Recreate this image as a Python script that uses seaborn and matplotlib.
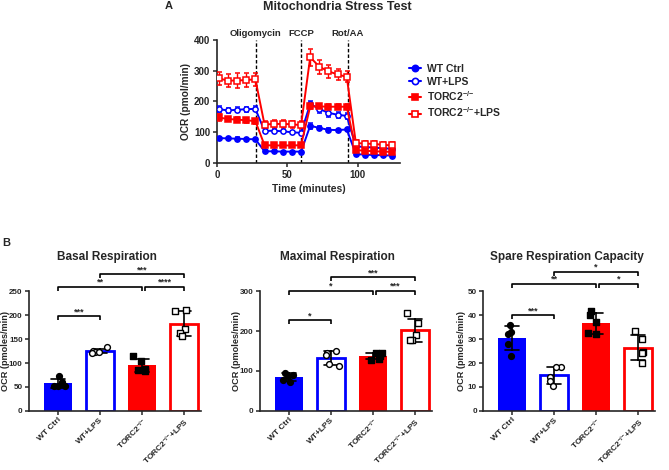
import matplotlib
matplotlib.use("Agg")
import matplotlib.pyplot as plt
import matplotlib.transforms as mtransforms
from matplotlib.lines import Line2D
import seaborn as sns
import pandas as pd
import numpy as np

sns.set_style("ticks")
plt.rcParams["font.family"] = ["Liberation Sans", "DejaVu Sans"]
plt.rcParams["font.weight"] = "bold"
plt.rcParams["axes.labelweight"] = "bold"
plt.rcParams["mathtext.fontset"] = "custom"
plt.rcParams["mathtext.rm"] = "Liberation Sans:bold"
plt.rcParams["mathtext.bf"] = "Liberation Sans:bold"
plt.rcParams["mathtext.default"] = "bf"
plt.rcParams["axes.linewidth"] = 1.2

np.random.seed(3)

# ---------------- data: panel A (seahorse trace) ----------------
time_min = [1.3, 7.8, 14.3, 20.8, 27.3, 33.8, 40.3, 46.8, 53.3, 59.8,
            66.3, 72.8, 79.3, 85.8, 92.3, 98.8, 105.3, 111.8, 118.3, 124.8]
inject_min = [27.5, 60, 93]
inject_names = ["Oligomycin", "FCCP", "Rot/AA"]

wt_ctrl = [81, 80, 79, 78, 77, 38, 38, 37, 37, 37,
           121, 114, 108, 107, 109, 29, 27, 26, 25, 24]
wt_ctrl_err = [5, 4, 4, 4, 4, 3, 3, 3, 3, 3,
               10, 6, 5, 5, 5, 4, 3, 3, 3, 3]
wt_lps = [175, 171, 173, 175, 176, 104, 105, 103, 100, 98,
          192, 176, 163, 157, 153, 54, 52, 50, 48, 46]
wt_lps_err = [10, 8, 8, 8, 8, 6, 5, 5, 5, 5,
              10, 12, 12, 10, 10, 5, 5, 5, 5, 5]
torc2 = [148, 143, 141, 139, 136, 58, 57, 57, 57, 58,
         184, 184, 183, 183, 183, 42, 40, 38, 37, 36]
torc2_err = [10, 8, 8, 8, 8, 5, 5, 5, 5, 5,
             10, 8, 8, 8, 8, 5, 5, 4, 4, 4]
torc2_lps = [275, 268, 268, 270, 272, 125, 127, 127, 126, 123,
             344, 313, 298, 288, 280, 65, 63, 62, 59, 57]
torc2_lps_err = [22, 22, 24, 24, 22, 12, 12, 12, 12, 12,
                 28, 22, 22, 18, 18, 10, 10, 10, 10, 10]

series_names = ["WT Ctrl", "WT+LPS", "TORC2$^{{-}/{-}}$", "TORC2$^{{-}/{-}}$+LPS"]

# ---------------- data: panel B (per-animal values) ----------------
groups = ["WT Ctrl", "WT+LPS", "TORC2-/-", "TORC2-/-+LPS"]
group_labels = ["WT Ctrl", "WT+LPS", "TORC2$^{{-}/{-}}$", "TORC2$^{{-}/{-}}$+LPS"]

basal = [[72, 60, 52, 51, 52],
         [133, 125, 124, 121, 123],
         [115, 104, 84, 86, 88],
         [212, 208, 172, 163, 157]]
maximal = [[95, 91, 88, 78, 72],
           [150, 145, 140, 118, 112],
           [146, 145, 137, 130, 128],
           [245, 220, 190, 178, 178]]
spare = [[36, 33, 32, 28, 23],
         [18.5, 18.5, 14, 12.5, 10.5],
         [42, 40, 37, 32.5, 32],
         [33.5, 30, 24.5, 24, 20]]

basal_sig = [(0, 1, 198, "***"), (0, 2, 260, "**"), (2.08, 3, 260, "****"), (1, 3, 286, "***")]
maximal_sig = [(0, 1, 228, "*"), (0, 2, 302, "*"), (2.08, 3, 302, "***"), (1, 3, 336, "***")]
spare_sig = [(0, 1, 40, "***"), (0, 2, 53.2, "**"), (2.08, 3, 53.2, "*"), (1, 3, 58.3, "*")]

# ---------------- styles ----------------
BLUE = "#0000ff"
RED = "#ff0000"
colors = [BLUE, BLUE, RED, RED]
open_bar = [False, True, False, True]
trace_markers = ["o", "o", "s", "s"]
point_markers = ["o", "o", "s", "s"]

fig = plt.figure(figsize=(6.69, 4.70), dpi=100)

# ================= Panel A =================
axA = fig.add_axes([0.3244, 0.6532, 0.2731, 0.2617])
trace_vals = [wt_ctrl, wt_lps, torc2, torc2_lps]
trace_errs = [wt_ctrl_err, wt_lps_err, torc2_err, torc2_lps_err]
handles = []
for name, vals, errs, col, mk, is_open in zip(series_names, trace_vals, trace_errs,
                                             colors, trace_markers, open_bar):
    mfc = "white" if is_open else col
    axA.errorbar(time_min, vals, yerr=errs, color=col, marker=mk, markersize=3.8,
                 mfc=mfc, mec=col, mew=1.1, lw=1.4, capsize=1.8, elinewidth=1,
                 capthick=1, zorder=3)
    handles.append(Line2D([], [], color=col, marker=mk, markersize=4.5, mfc=mfc,
                          mec=col, mew=1.2, lw=1.5))

trans = mtransforms.blended_transform_factory(axA.transData, axA.transAxes)
for t, lab in zip(inject_min, inject_names):
    axA.axvline(t, color="black", ls=(0, (2.5, 1.5)), lw=1, zorder=2)
    axA.text(t, 1.05, lab, transform=trans, ha="center", va="center", fontsize=6.8)

axA.set_xlim(0, 130)
axA.set_ylim(0, 400)
axA.set_xticks([0, 50, 100])
axA.set_yticks([0, 100, 200, 300, 400])
axA.tick_params(labelsize=7, length=3, width=1.1, pad=2)
axA.set_xlabel("Time (minutes)", fontsize=7.4, labelpad=3)
axA.set_ylabel("OCR (pmol/min)", fontsize=7.3)
axA.yaxis.set_label_coords(-0.142, 0.5)
sns.despine(ax=axA)

fig.legend(handles, series_names, loc="upper left", bbox_to_anchor=(0.612, 0.864),
           frameon=False, fontsize=7.5, handlelength=1.1, handletextpad=0.6,
           labelspacing=0.25, borderpad=0, borderaxespad=0)

fig.text(0.504, 0.985, "Mitochondria Stress Test", ha="center", va="center", fontsize=9)
fig.text(0.252, 0.987, "A", ha="center", va="center", fontsize=8)
fig.text(0.009, 0.483, "B", ha="center", va="center", fontsize=8)


# ================= Panel B =================
def bracket(ax, x1, x2, y, h, text):
    ax.plot([x1, x1, x2, x2], [y - h, y, y, y - h], color="black", lw=1.2,
            clip_on=False, solid_capstyle="butt")
    ax.text((x1 + x2) / 2, y, text, ha="center", va="bottom", fontsize=6.5)


panels = [
    ("Basal Respiration", basal, 250, 50, basal_sig, 0.0433, 0.160, -0.112),
    ("Maximal Respiration", maximal, 300, 100, maximal_sig, 0.3886, 0.504, -0.112),
    ("Spare Respiration Capacity", spare, 50, 10, spare_sig, 0.722, 0.8475, -0.10),
]

for title, values, ymax, ystep, sigs, left, tx, ylab_x in panels:
    ax = fig.add_axes([left, 0.126, 0.2568, 0.254])
    df = pd.DataFrame({
        "group": [g for g, v in zip(groups, values) for _ in v],
        "ocr": [x for v in values for x in v],
    })
    sns.barplot(data=df, x="group", y="ocr", hue="group", order=groups,
                hue_order=groups, palette=dict(zip(groups, colors)), saturation=1,
                errorbar="sd", capsize=0.35, width=0.65, legend=False,
                err_kws={"color": "black", "linewidth": 1.2}, ax=ax)
    for p in ax.patches:
        idx = int(round(p.get_x() + p.get_width() / 2))
        if open_bar[idx]:
            p.set_facecolor("white")
            p.set_edgecolor(colors[idx])
            p.set_linewidth(2.0)
        else:
            p.set_edgecolor(colors[idx])
            p.set_linewidth(0)
    for g, mk, is_open in zip(groups, point_markers, open_bar):
        sns.stripplot(data=df[df["group"] == g], x="group", y="ocr", order=groups,
                      marker=mk, color="white" if is_open else "black",
                      edgecolor="black", linewidth=1, size=4.2, jitter=0.22,
                      ax=ax, zorder=4)
    for x1, x2, y, txt in sigs:
        bracket(ax, x1, x2, y, ymax * 0.035, txt)

    ax.set_xlim(-0.69, 3.4)
    ax.set_ylim(0, ymax)
    ax.set_yticks(np.arange(0, ymax + 1, ystep))
    ax.set_xticks(range(4))
    ax.set_xticklabels(group_labels, rotation=45, ha="right", rotation_mode="anchor",
                       fontsize=6.0)
    ax.tick_params(axis="y", labelsize=5.8, length=3, width=1.1, pad=1.5)
    ax.tick_params(axis="x", length=3, width=1.1, pad=1)
    ax.set_xlabel("")
    ax.set_ylabel("OCR (pmoles/min)", fontsize=6.6)
    ax.yaxis.set_label_coords(ylab_x, 0.5)
    sns.despine(ax=ax)
    fig.text(tx, 0.453, title, ha="center", va="center", fontsize=8.5)

fig.savefig("out.png", dpi=100)
